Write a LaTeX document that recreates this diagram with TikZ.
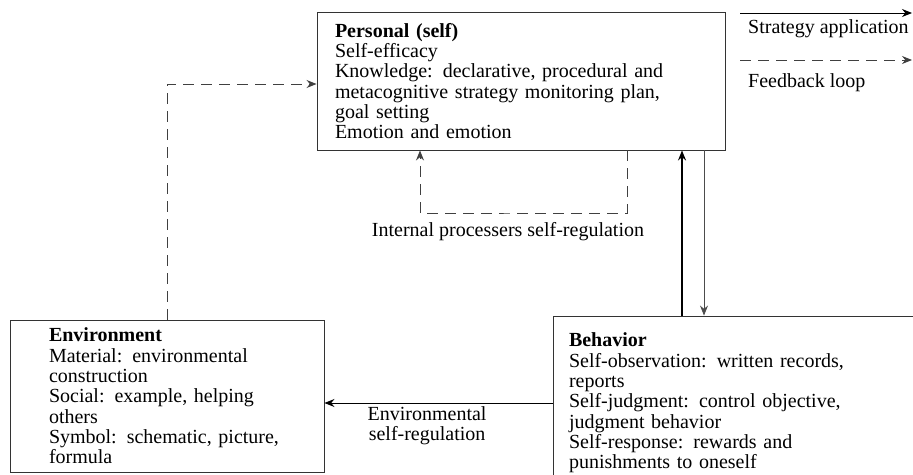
\documentclass[tikz,border=0pt]{standalone}
\usepackage{fontspec}
\setmainfont{Liberation Serif}
\usetikzlibrary{arrows.meta, positioning}
\tikzstyle{block} = [rectangle, draw=black!80, line width=0.9pt, align=left, font=\fontsize{20}{20.3}\selectfont]
\tikzstyle{strat} = [-{Stealth[length=10pt,width=8pt]}, black, line width=1pt]
\tikzstyle{fb} = [-{Stealth[length=10pt,width=8pt]}, black!75, line width=1pt, dash pattern=on 11pt off 7pt]
\tikzstyle{lbl} = [font=\fontsize{20}{20.3}\selectfont, align=center, inner sep=1pt]

\begin{document}
\begin{tikzpicture}[x=1pt, y=-1pt]
  \useasboundingbox (0,0) rectangle (913,474);
  \clip (0,0) rectangle (913,474);

  % boxes
  \node[block, minimum width=408pt, minimum height=138pt, inner xsep=18pt, text width=372pt] (pers) at (521,81)
    {\textbf{Personal (self)}\\Self-efficacy\\Knowledge: declarative, procedural and\\metacognitive strategy monitoring plan,\\goal setting\\Emotion and emotion};
  \node[block, minimum width=314pt, minimum height=152pt, inner xsep=39pt, text width=236pt] (env) at (167,396)
    {\textbf{Environment}\\Material: environmental\\construction\\Social: example, helping\\others\\Symbol: schematic, picture,\\formula};
  \node[block, minimum width=387pt, minimum height=174pt, inner xsep=16pt, text width=355pt] (beh) at (746.5,403)
    {\textbf{Behavior}\\Self-observation: written records,\\reports\\Self-judgment: control objective,\\judgment behavior\\Self-response: rewards and\\punishments to oneself};

  % personal <-> behavior
  \draw[strat, line width=1.6pt] ([xshift=161pt]pers.south |- beh.north) -- ([xshift=161pt]pers.south);
  \draw[strat, line width=0.8pt, black!70] ([xshift=183pt]pers.south) -- ([xshift=183pt]pers.south |- beh.north);

  % environmental self-regulation
  \draw[strat] (beh.west) -- node[lbl, below=2pt, pos=0.55] (envlbl) {Environmental\\self-regulation} (beh.west -| env.east);

  % feedback
  \draw[fb] (env.north) |- ([yshift=-3pt]pers.west);

  % internal loop
  \coordinate (loop) at (508,213);
  \draw[fb] ([xshift=106pt]pers.south) |- (loop) -| ([xshift=-101pt]pers.south);
  \node[lbl, below=8pt of loop] (intlbl) {Internal processers self-regulation};

  % legend
  \coordinate (sa1) at (740,13);
  \coordinate (sa2) at (912,13);
  \draw[strat] (sa1) -- (sa2);
  \node[lbl, anchor=west] (salbl) at (747,29) {Strategy application};
  \coordinate (fl1) at (740,60);
  \coordinate (fl2) at (912,60);
  \draw[fb] (fl1) -- (fl2);
  \node[lbl, anchor=west] (fllbl) at (747,83) {Feedback loop};
\end{tikzpicture}
\end{document}
